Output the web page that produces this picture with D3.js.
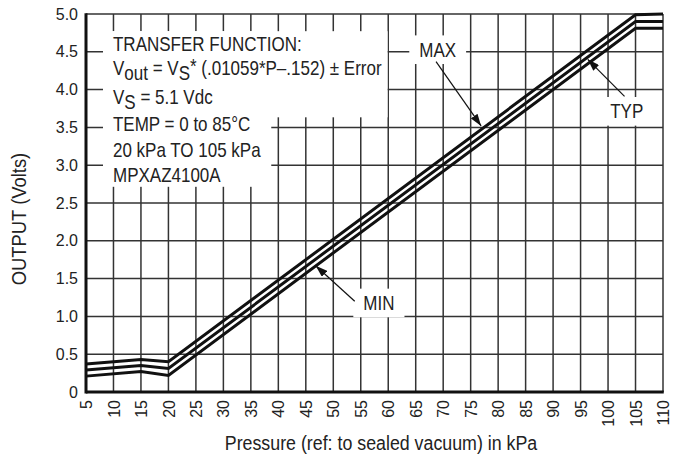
<!DOCTYPE html>
<html>
<head>
<meta charset="utf-8">
<script src="https://cdn.jsdelivr.net/npm/d3@7"></script>
<style>
  body { margin: 0; background: #fff; }
  svg { display: block; }
  .tick text { font-family: "Liberation Sans", Arial, sans-serif; font-size: 16px; fill: #222; }
  .lbl { font-family: "Liberation Sans", Arial, sans-serif; font-size: 20px; fill: #222; }
</style>
</head>
<body>
<svg id="chart"></svg>
<script>
// pressure in kPa and output in volts
const pressure = [5, 15, 20, 105, 110]
const maxOut = [0.37, 0.43, 0.40, 4.99, 5.00]
const typOut = [0.29, 0.35, 0.31, 4.90, 4.90]
const minOut = [0.21, 0.27, 0.22, 4.81, 4.81]

const xTicks = [5, 10, 15, 20, 25, 30, 35, 40, 45, 50, 55, 60, 65, 70, 75, 80, 85, 90, 95, 100, 105, 110]
const yTicks = [0, 0.5, 1.0, 1.5, 2.0, 2.5, 3.0, 3.5, 4.0, 4.5, 5.0]
const yTickLabels = ['0', '0.5', '1.0', '1.5', '2.0', '2.5', '3.0', '3.5', '4.0', '4.5', '5.0']

const boxLines = [
  [['TRANSFER FUNCTION:', 0]],
  [['V', 0], ['out', 5], [' = V', -5], ['S', 5], ['*', -7], [' (.01059*P\u2013.152) \u00b1 Error', 2]],
  [['V', 0], ['S', 5], [' = 5.1 Vdc', -5]],
  [['TEMP = 0 to 85\u00b0C', 0]],
  [['20 kPa TO 105 kPa', 0]],
  [['MPXAZ4100A', 0]]
]

// callouts: label position, arrow tail and tip in data units
const callouts = [
  {text: 'MAX', at: [69.0, 4.435], from: [68.7, 4.37], to: [76.9, 3.52]},
  {text: 'TYP', at: [103.4, 3.62], from: [103.0, 3.91], to: [96.3, 4.40]},
  {text: 'MIN', at: [58.3, 1.085], from: [53.9, 1.20], to: [46.8, 1.67]}
]

const width = 686, height = 457
const margin = {top: 14, right: 23, bottom: 65, left: 86}
const squeeze = 0.85 // condensed face look

const svg = d3.select('#chart')
  .attr('width', width)
  .attr('height', height)

const x = d3.scaleLinear()
  .domain([5, 110])
  .range([margin.left, width - margin.right])
const y = d3.scaleLinear()
  .domain([0, 5])
  .range([height - margin.bottom, margin.top])

const condense = (ax, k) => `translate(${ax},0) scale(${k},1) translate(${-ax},0)`

// grid
const grid = svg.append('g')
grid.selectAll('.vg')
  .data(xTicks)
  .enter().append('line')
    .attr('x1', d => x(d)).attr('x2', d => x(d))
    .attr('y1', y(0)).attr('y2', y(5))
    .attr('stroke', '#333').attr('stroke-width', 1.5)
grid.selectAll('.hg')
  .data(yTicks)
  .enter().append('line')
    .attr('x1', x(5)).attr('x2', x(110))
    .attr('y1', d => y(d)).attr('y2', d => y(d))
    .attr('stroke', '#333').attr('stroke-width', 1.5)

// axes (labels only, the grid does the lines)
const xAxis = d3.axisBottom(x).tickValues(xTicks).tickSize(0).tickFormat(d3.format('d'))
const gx = svg.append('g')
  .attr('transform', `translate(0, ${y(0)})`)
  .call(xAxis)
gx.select('.domain').remove()
gx.selectAll('text')
  .attr('transform', 'rotate(-90)')
  .attr('text-anchor', 'end')
  .attr('x', -8)
  .attr('y', 0)
  .attr('dy', '0.35em')

const yAxis = d3.axisLeft(y).tickValues(yTicks).tickSize(0).tickFormat((d, i) => yTickLabels[i])
const gy = svg.append('g')
  .attr('transform', `translate(${x(5)}, 0)`)
  .call(yAxis)
gy.select('.domain').remove()
gy.selectAll('text').attr('x', -8)

// heavy left and bottom axis lines
svg.append('line')
  .attr('x1', x(5)).attr('x2', x(5)).attr('y1', y(5) - 0.75).attr('y2', y(0) + 1.5)
  .attr('stroke', '#111').attr('stroke-width', 3)
svg.append('line')
  .attr('x1', x(5)).attr('x2', x(110) + 0.75).attr('y1', y(0)).attr('y2', y(0))
  .attr('stroke', '#111').attr('stroke-width', 3)

// curves
const line = d3.line().x(d => x(d[0])).y(d => y(d[1]))
const series = [maxOut, typOut, minOut]
svg.append('g').selectAll('path')
  .data(series)
  .enter().append('path')
    .attr('d', s => line(pressure.map((p, i) => [p, s[i]])))
    .attr('fill', 'none')
    .attr('stroke', '#111')
    .attr('stroke-width', 3)
    .attr('stroke-linejoin', 'miter')

// transfer function text block
const textX = 113
const baselines = [51.5, 75.5, 104, 131.5, 157.5, 182.5]
const boxBg = svg.append('g')
const boxTxt = svg.append('g').attr('transform', condense(textX, squeeze))
const boxes = boxLines.map((parts, i) => {
  const t = boxTxt.append('text')
    .attr('class', 'lbl')
    .attr('x', textX)
    .attr('y', baselines[i])
  parts.forEach(p => {
    t.append('tspan').attr('dy', p[1]).text(p[0])
  })
  const b = t.node().getBBox()
  return {top: b.y, bottom: b.y + b.height, right: textX + (b.x + b.width - textX) * squeeze}
})
const top3 = boxes.slice(0, 3), low3 = boxes.slice(3)
const padX = 10, padY = 4
const left = textX - padX
const rightA = d3.max(top3, b => b.right) + 6
const rightB = d3.max(low3, b => b.right) + padX
const topY = boxes[0].top - padY + 2
boxBg.append('rect')
  .attr('x', left).attr('y', topY)
  .attr('width', rightA - left)
  .attr('height', top3[2].bottom + padY - topY)
  .attr('fill', '#fff')
boxBg.append('rect')
  .attr('x', left).attr('y', topY)
  .attr('width', rightB - left)
  .attr('height', low3[2].bottom - topY)
  .attr('fill', '#fff')

// callouts
svg.append('defs').append('marker')
  .attr('id', 'head')
  .attr('viewBox', '0 0 12 8')
  .attr('refX', 12).attr('refY', 4)
  .attr('markerWidth', 12).attr('markerHeight', 8)
  .attr('markerUnits', 'userSpaceOnUse')
  .attr('orient', 'auto')
  .append('path').attr('d', 'M0,0L12,4L0,8Z').attr('fill', '#111')

const cg = svg.append('g')
callouts.forEach(c => {
  const cx = x(c.at[0])
  const t = cg.append('text')
    .attr('class', 'lbl')
    .attr('x', cx).attr('y', y(c.at[1]))
    .attr('text-anchor', 'middle')
    .attr('transform', condense(cx, squeeze))
    .text(c.text)
  const b = t.node().getBBox()
  const w = b.width * squeeze
  cg.insert('rect', 'text')
    .attr('x', cx - w / 2 - 10).attr('y', b.y - 3)
    .attr('width', w + 20).attr('height', b.height + 6)
    .attr('fill', '#fff')
  cg.append('line')
    .attr('x1', x(c.from[0])).attr('y1', y(c.from[1]))
    .attr('x2', x(c.to[0])).attr('y2', y(c.to[1]))
    .attr('stroke', '#111').attr('stroke-width', 1.2)
    .attr('marker-end', 'url(#head)')
})

// axis titles
svg.append('text')
  .attr('class', 'lbl')
  .attr('transform', 'translate(26, 219) rotate(-90) scale(0.92,1)')
  .attr('text-anchor', 'middle')
  .text('OUTPUT (Volts)')
svg.append('text')
  .attr('class', 'lbl')
  .attr('x', 381).attr('y', 450)
  .attr('text-anchor', 'middle')
  .attr('transform', condense(381, 0.89))
  .text('Pressure (ref: to sealed vacuum) in kPa')
</script>
</body>
</html>
